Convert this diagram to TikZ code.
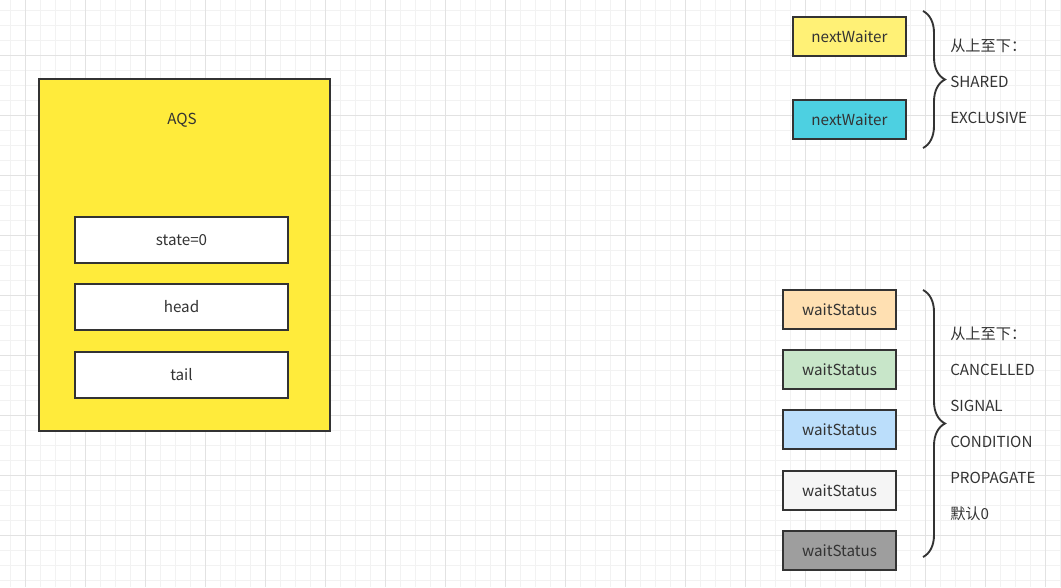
\documentclass[tikz,border=0pt]{standalone}
\usepackage{fontspec}
\setmainfont{Noto Sans CJK SC}
\usetikzlibrary{positioning,decorations.pathreplacing}

\definecolor{ink}{HTML}{333333}
\definecolor{aqsyellow}{HTML}{FFEB3B}
\definecolor{lightyellow}{HTML}{FFF176}
\definecolor{cyan}{HTML}{4DD0E1}
\definecolor{peach}{HTML}{FFE0B2}
\definecolor{mint}{HTML}{C8E6C9}
\definecolor{sky}{HTML}{BBDEFB}
\definecolor{paper}{HTML}{F5F5F5}
\definecolor{stone}{HTML}{9E9E9E}

\begin{document}
\begin{tikzpicture}[x=0.75pt,y=-0.75pt]

% definitions
\tikzstyle{every node} = [text=ink, font=\fontsize{11.4}{13}\selectfont]

\tikzstyle{minorgrid} = [draw={rgb,255:red,242;green,242;blue,242}, line width=0.75pt]

\tikzstyle{majorgrid} = [draw={rgb,255:red,226;green,226;blue,226}, line width=0.75pt]

\tikzstyle{aqs} = [rectangle, minimum width=218.25pt, minimum height=264pt, draw=ink, line width=1.4pt, fill=aqsyellow]

\tikzstyle{field} = [rectangle, minimum width=159.75pt, minimum height=34.5pt, text centered, draw=ink, line width=1.4pt, fill=white]

\tikzstyle{waiter} = [rectangle, minimum width=84.75pt, minimum height=29.25pt, text centered, draw=ink, line width=1.4pt]

\tikzstyle{status} = [rectangle, minimum width=84.75pt, minimum height=29.25pt, text centered, draw=ink, line width=1.4pt]

\tikzstyle{brace} = [decorate, decoration={brace, amplitude=16.5pt}, draw=ink, line width=1.4pt]

\tikzstyle{note} = [align=left, anchor=west, inner sep=0pt, font=\fontsize{11.4}{27}\selectfont]

% the grid
\useasboundingbox (0,0) rectangle (1061,587);
\fill[white] (0,0) rectangle (1061,587);
\foreach \gx in {10,25,...,1060} \draw[minorgrid] (\gx,0) -- (\gx,587);
\foreach \gy in {10,25,...,580} \draw[minorgrid] (0,\gy) -- (1061,\gy);
\foreach \gx in {25,85,...,1045} \draw[majorgrid] (\gx,0) -- (\gx,587);
\foreach \gy in {55,115,...,535} \draw[majorgrid] (0,\gy) -- (1061,\gy);

% the graph
\node (aqs) [aqs] at (184.5,255) {};

\node (title) at (182,120) {AQS};

\node (state) [field] at (181.5,240) {state=0};

\node (head) [field, below=14.35pt of state] {head};

\node (tail) [field, below=15.1pt of head] {tail};

\node (shared) [waiter, fill=lightyellow] at (849.5,36.5) {nextWaiter};

\node (exclusive) [waiter, fill=cyan, below=31.6pt of shared] {nextWaiter};

\node (cancelled) [status, fill=peach] at (839.5,309.5) {waitStatus};

\node (signal) [status, fill=mint, below=14.35pt of cancelled] {waitStatus};

\node (condition) [status, fill=sky, below=14.35pt of signal] {waitStatus};

\node (propagate) [status, fill=paper, below=15.1pt of condition] {waitStatus};

\node (initial) [status, fill=stone, below=14.35pt of propagate] {waitStatus};

% braces and notes
\coordinate (modestop) at (923,11);
\coordinate (modesbot) at (923,148);
\coordinate (statustop) at (923,290);
\coordinate (statusbot) at (923,557);

\draw [brace] (modestop) -- (modesbot);
\draw [brace] (statustop) -- (statusbot);

\node (modes) [note] at (950,81) {从上至下：\\SHARED\\EXCLUSIVE};

\node (values) [note] at (950,424) {从上至下：\\CANCELLED\\SIGNAL\\CONDITION\\PROPAGATE\\默认0};

\end{tikzpicture}
\end{document}
